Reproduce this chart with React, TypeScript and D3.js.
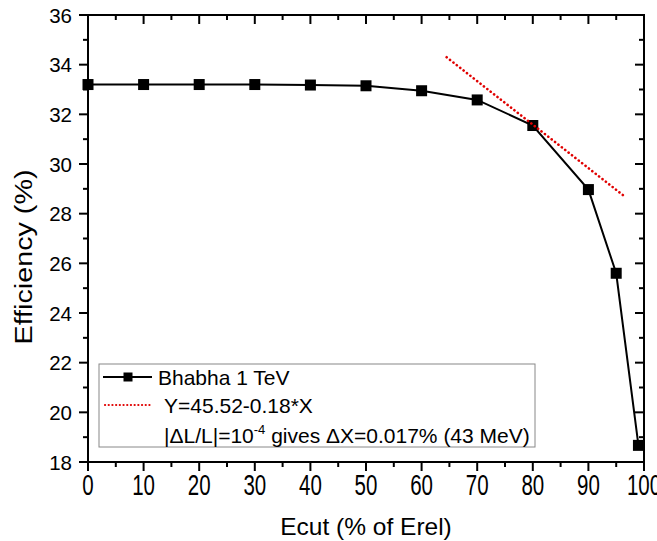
import React from "react";
import * as d3 from "d3";

const xValues = [0, 10, 20, 30, 40, 50, 60, 70, 80, 90, 95, 99];
const efficiency = [33.2, 33.2, 33.2, 33.2, 33.18, 33.15, 32.95, 32.58, 31.55, 28.97, 25.6, 18.67];
const fitX = [64.5, 96.2];
const fitY = [34.3, 28.75];
const xMajorTicks = [0, 10, 20, 30, 40, 50, 60, 70, 80, 90, 100];
const xMinorTicks = [5, 15, 25, 35, 45, 55, 65, 75, 85, 95];
const yMajorTicks = [18, 20, 22, 24, 26, 28, 30, 32, 34, 36];
const yMinorTicks = [19, 21, 23, 25, 27, 29, 31, 33, 35];
const legendLabels = ["Bhabha 1 TeV", "Y=45.52-0.18*X"];

const W = 657, H = 541;
const L = 88, R = 644, T = 15, B = 462;
const FONT = "Arial, 'Liberation Sans', sans-serif";

export default function App() {
  const x = d3.scaleLinear().domain([0, 100]).range([L, R]);
  const y = d3.scaleLinear().domain([18, 36]).range([B, T]);
  const line = d3.line<number>().x((_, i) => x(xValues[i])).y((d) => y(d));
  const fitLine = d3.line<number>().x((_, i) => x(fitX[i])).y((d) => y(d));
  const maj = 9, min = 5;
  const ms = 11;
  return (
    <svg width={W} height={H} style={{ position: "absolute", left: 0, top: 0, background: "#fff" }} fontFamily={FONT}>
      <rect x={0} y={0} width={W} height={H} fill="#fff" />
      {/* data line */}
      <path d={line(efficiency) || ""} fill="none" stroke="#000" strokeWidth={2} />
      {efficiency.map((v, i) => (
        <rect key={i} x={x(xValues[i]) - ms / 2} y={y(v) - ms / 2} width={ms} height={ms} fill="#000" />
      ))}
      {/* fit */}
      <path d={fitLine(fitY) || ""} fill="none" stroke="#e00000" strokeWidth={2.6} strokeDasharray="0.1 4.2" strokeLinecap="round" />
      {/* legend */}
      <rect x={99} y={364} width={436} height={83} fill="#fff" stroke="#888" strokeWidth={1} />
      <line x1={103} x2={152} y1={377} y2={377} stroke="#000" strokeWidth={2} />
      <rect x={128 - 4.5} y={377 - 4.5} width={9} height={9} fill="#000" />
      <text x={158} y={385} fontSize={21} fill="#000">{legendLabels[0]}</text>
      <line x1={105} x2={150} y1={405} y2={405} stroke="#e00000" strokeWidth={2.2} strokeDasharray="0.1 3.6" strokeLinecap="round" />
      <text x={164} y={413} fontSize={21} fill="#000">{legendLabels[1]}</text>
      <text x={164} y={443} fontSize={21} fill="#000">
        |ΔL/L|=10<tspan dy={-9} fontSize={13}>-4</tspan><tspan dy={9}> gives ΔX=0.017% (43 MeV)</tspan>
      </text>
      {/* axes frame */}
      <rect x={L} y={T} width={R - L} height={B - T} fill="none" stroke="#000" strokeWidth={2} />
      {xMajorTicks.map((t) => (
        <g key={"xm" + t}>
          <line x1={x(t)} x2={x(t)} y1={B} y2={B + maj} stroke="#000" strokeWidth={2} />
          <line x1={x(t)} x2={x(t)} y1={T} y2={T + maj} stroke="#000" strokeWidth={2} />
          <text transform={`translate(${x(t)},495) scale(1,1.4)`} fontSize={20.5} textAnchor="middle" fill="#000">{t}</text>
        </g>
      ))}
      {xMinorTicks.map((t) => (
        <g key={"xn" + t}>
          <line x1={x(t)} x2={x(t)} y1={B} y2={B + min} stroke="#000" strokeWidth={2} />
          <line x1={x(t)} x2={x(t)} y1={T} y2={T + min} stroke="#000" strokeWidth={2} />
        </g>
      ))}
      {yMajorTicks.map((t) => (
        <g key={"ym" + t}>
          <line x1={L - maj} x2={L} y1={y(t)} y2={y(t)} stroke="#000" strokeWidth={2} />
          <line x1={R - maj} x2={R} y1={y(t)} y2={y(t)} stroke="#000" strokeWidth={2} />
          <text x={72} y={y(t) + 7.5} fontSize={20.5} textAnchor="end" fill="#000">{t}</text>
        </g>
      ))}
      {yMinorTicks.map((t) => (
        <g key={"yn" + t}>
          <line x1={L - min} x2={L} y1={y(t)} y2={y(t)} stroke="#000" strokeWidth={2} />
          <line x1={R - min} x2={R} y1={y(t)} y2={y(t)} stroke="#000" strokeWidth={2} />
        </g>
      ))}
      <text x={366} y={535} fontSize={24.5} textAnchor="middle" fill="#000">Ecut (% of Erel)</text>
      <text transform={`translate(32,257) rotate(-90) scale(1.25,1)`} fontSize={23} textAnchor="middle" fill="#000">Efficiency (%)</text>
    </svg>
  );
}
